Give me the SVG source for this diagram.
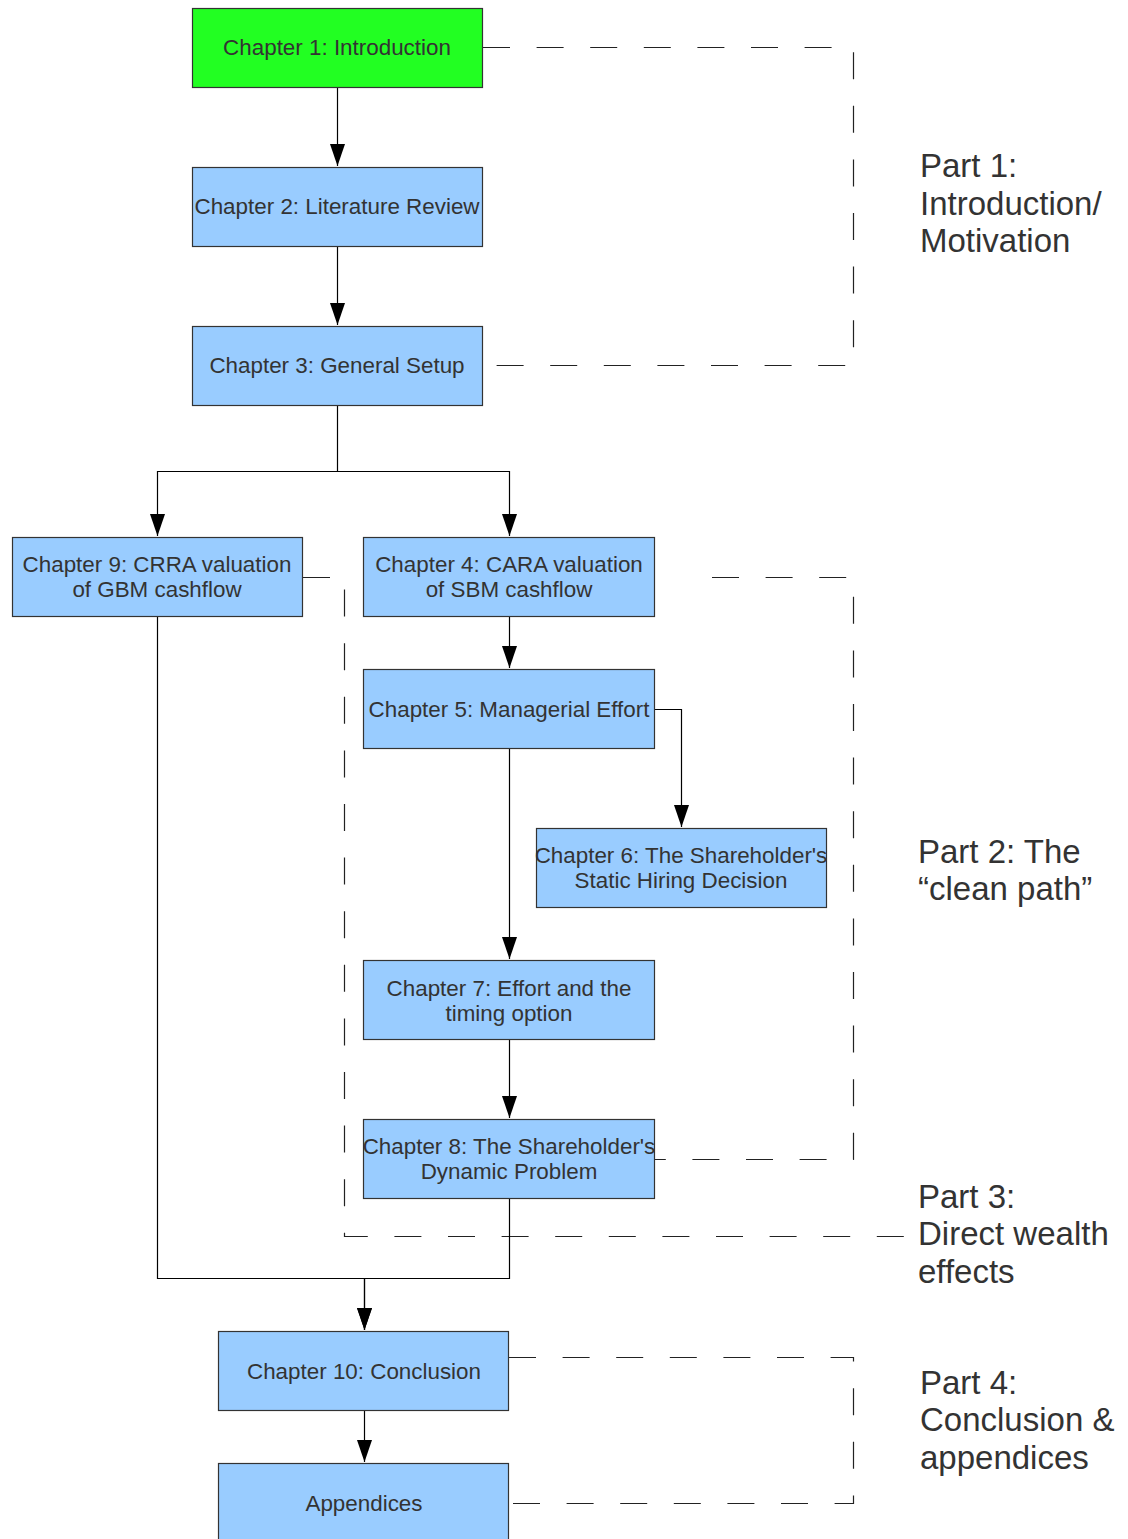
<svg xmlns="http://www.w3.org/2000/svg" width="1128" height="1539" viewBox="0 0 1128 1539">
<style>
.box{fill:#99ccff;stroke:#333333;stroke-width:1.2}
.green{fill:#22ff22}
.t{font-family:"Liberation Sans",Arial,sans-serif;font-size:22.4px;fill:#333333;text-anchor:middle}
.p{font-family:"Liberation Sans",Arial,sans-serif;font-size:33px;fill:#333333}
.c{fill:none;stroke:#000000;stroke-width:1.2}
.d{fill:none;stroke:#222222;stroke-width:1.2;stroke-dasharray:27 26.6}
</style>
<defs>
<marker id="arr" markerUnits="userSpaceOnUse" markerWidth="24" markerHeight="16" viewBox="0 -8 24 16" refX="22" refY="0" orient="auto">
<path d="M0,-7.5 L22,0 L0,7.5 Z" fill="#000000"/>
</marker>
</defs>
<rect width="1128" height="1539" fill="#ffffff"/>
<g id="dashed">
<path class="d" d="M483,47.5 H853.5 V365.5 H483"/>
<path class="d" d="M712,577.5 H853.5 V1159.5 H655"/>
<path class="d" d="M303,577.5 H344.5 V1236.5 H906"/>
<path class="d" d="M509,1357.5 H853.5 V1503.5 H509"/>
</g>
<g id="connectors">
<path class="c" d="M337.5,87 V166" marker-end="url(#arr)"/>
<path class="c" d="M337.5,246 V325" marker-end="url(#arr)"/>
<path class="c" d="M337.5,405 V471.5 H157.5 V536" marker-end="url(#arr)"/>
<path class="c" d="M337.5,471.5 H509.5 V536" marker-end="url(#arr)"/>
<path class="c" d="M509.5,616 V668" marker-end="url(#arr)"/>
<path class="c" d="M655,709.5 H681.5 V827" marker-end="url(#arr)"/>
<path class="c" d="M509.5,748 V959" marker-end="url(#arr)"/>
<path class="c" d="M509.5,1040 V1118" marker-end="url(#arr)"/>
<path class="c" d="M509.5,1199 V1278.5 H364.5 V1330" marker-end="url(#arr)"/>
<path class="c" d="M157.5,616 V1278.5 H364.5 V1330" marker-end="url(#arr)"/>
<path class="c" d="M364.5,1410 V1462" marker-end="url(#arr)"/>
</g>
<g id="ch1">
<rect class="box green" x="192.5" y="8.5" width="290" height="79"/>
<text class="t" x="337" y="55">Chapter 1: Introduction</text>
</g>
<g id="ch2">
<rect class="box" x="192.5" y="167.5" width="290" height="79"/>
<text class="t" x="337" y="214">Chapter 2: Literature Review</text>
</g>
<g id="ch3">
<rect class="box" x="192.5" y="326.5" width="290" height="79"/>
<text class="t" x="337" y="373">Chapter 3: General Setup</text>
</g>
<g id="ch9">
<rect class="box" x="12.5" y="537.5" width="290" height="79"/>
<text class="t" x="157" y="572">Chapter 9: CRRA valuation</text>
<text class="t" x="157" y="597">of GBM cashflow</text>
</g>
<g id="ch4">
<rect class="box" x="363.5" y="537.5" width="291" height="79"/>
<text class="t" x="509" y="572">Chapter 4: CARA valuation</text>
<text class="t" x="509" y="597">of SBM cashflow</text>
</g>
<g id="ch5">
<rect class="box" x="363.5" y="669.5" width="291" height="79"/>
<text class="t" x="509" y="717">Chapter 5: Managerial Effort</text>
</g>
<g id="ch6">
<rect class="box" x="536.5" y="828.5" width="290" height="79"/>
<text class="t" x="681" y="863">Chapter 6: The Shareholder's</text>
<text class="t" x="681" y="888">Static Hiring Decision</text>
</g>
<g id="ch7">
<rect class="box" x="363.5" y="960.5" width="291" height="79"/>
<text class="t" x="509" y="996">Chapter 7: Effort and the</text>
<text class="t" x="509" y="1021">timing option</text>
</g>
<g id="ch8">
<rect class="box" x="363.5" y="1119.5" width="291" height="79"/>
<text class="t" x="509" y="1154">Chapter 8: The Shareholder's</text>
<text class="t" x="509" y="1179">Dynamic Problem</text>
</g>
<g id="ch10">
<rect class="box" x="218.5" y="1331.5" width="290" height="79"/>
<text class="t" x="364" y="1379">Chapter 10: Conclusion</text>
</g>
<g id="appendices">
<rect class="box" x="218.5" y="1463.5" width="290" height="79"/>
<text class="t" x="364" y="1511">Appendices</text>
</g>
<g id="part1">
<text class="p" x="920" y="177">Part 1:</text>
<text class="p" x="920" y="215">Introduction/</text>
<text class="p" x="920" y="252">Motivation</text>
</g>
<g id="part2">
<text class="p" x="918" y="863">Part 2: The</text>
<text class="p" x="918" y="900">“clean path”</text>
</g>
<g id="part3">
<text class="p" x="918" y="1208">Part 3:</text>
<text class="p" x="918" y="1245">Direct wealth</text>
<text class="p" x="918" y="1283">effects</text>
</g>
<g id="part4">
<text class="p" x="920" y="1394">Part 4:</text>
<text class="p" x="920" y="1431">Conclusion &amp;</text>
<text class="p" x="920" y="1469">appendices</text>
</g>
</svg>
